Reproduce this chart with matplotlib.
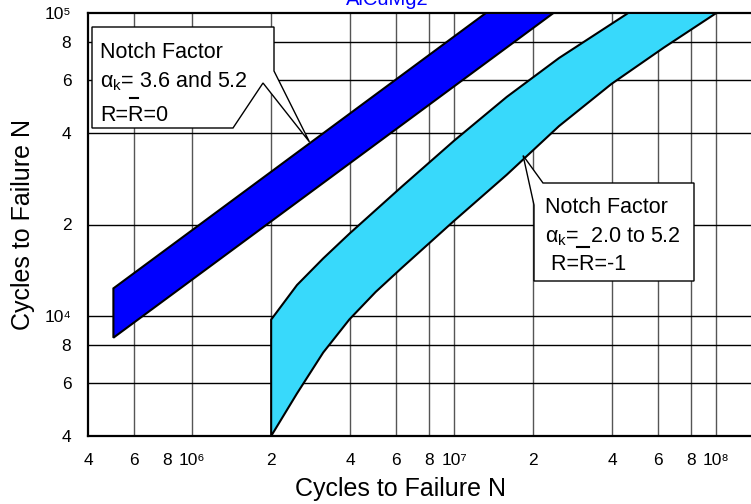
import numpy as np
import matplotlib
matplotlib.use('Agg')
import matplotlib.pyplot as plt
from matplotlib.patches import Polygon

plt.rcParams['font.family'] = ['Liberation Sans', 'DejaVu Sans']
plt.rcParams['mathtext.fontset'] = 'custom'
plt.rcParams['mathtext.rm'] = 'Liberation Sans'
plt.rcParams['mathtext.it'] = 'Liberation Sans:italic'
plt.rcParams['mathtext.default'] = 'regular'

# scatter band R=0 (notch factor 3.6 and 5.2)
r0_upper_x = [5.0e5, 1.32e7]
r0_upper_y = [1.23e4, 1.0e5]
r0_lower_x = [5.0e5, 2.39e7]
r0_lower_y = [8.45e3, 1.0e5]

# scatter band R=-1 (notch factor 2.0 to 5.2)
rm1_upper_x = [2.0e6, 2.51e6, 3.16e6, 3.98e6, 6.31e6, 1.0e7, 1.585e7, 2.51e7, 4.61e7]
rm1_upper_y = [9.7e3, 1.262e4, 1.545e4, 1.866e4, 2.67e4, 3.79e4, 5.28e4, 7.1e4, 1.0e5]
rm1_lower_x = [2.0e6, 2.51e6, 3.16e6, 3.98e6, 5.01e6, 6.31e6, 1.0e7, 1.585e7, 2.51e7,
               3.98e7, 6.31e7, 1.0e8]
rm1_lower_y = [4.0e3, 5.53e3, 7.55e3, 9.72e3, 1.197e4, 1.439e4, 2.06e4, 2.92e4, 4.23e4,
               5.83e4, 7.69e4, 1.0e5]

xticks = [4e5, 6e5, 8e5, 1e6, 2e6, 4e6, 6e6, 8e6, 1e7, 2e7, 4e7, 6e7, 8e7, 1e8]
xlabels = ['4', '6', '8', '10\u2076', '2', '4', '6', '8', '10\u2077', '2', '4', '6', '8', '10\u2078']
xgrid = [6e5, 1e6, 2e6, 4e6, 6e6, 8e6, 1e7, 2e7, 4e7, 6e7, 8e7, 1e8]
yticks = [4e3, 6e3, 8e3, 1e4, 2e4, 4e4, 6e4, 8e4, 1e5]
ylabels = ['4', '6', '8', '10\u2074', '2', '4', '6', '8', '10\u2075']

tip_r0 = (2.8e6, 3.75e4)
tip_rm1 = (1.83e7, 3.38e4)

W, H = 751, 504
fig = plt.figure(figsize=(W / 100, H / 100), dpi=100)
# axes: left 88px, top 13px, bottom 436px; right side runs off the picture
ax = fig.add_axes([88 / W, (H - 436) / H, 674.5 / W, 423 / H])
ax.set_xscale('log')
ax.set_yscale('log')
ax.set_xlim(4e5, 1.5e8)
ax.set_ylim(4e3, 1e5)

for gx in xgrid:
    ax.axvline(gx, color='#555555', lw=1.0, zorder=1)
for gy in yticks[1:-1]:
    ax.axhline(gy, color='black', lw=1.0, zorder=1)

ax.set_xticks(xticks)
ax.set_xticklabels(xlabels)
ax.set_yticks(yticks)
ax.set_yticklabels(ylabels)
ax.minorticks_off()
ax.tick_params(axis='both', length=0, labelsize=12.5)
ax.tick_params(axis='x', pad=12)
ax.tick_params(axis='y', pad=12)

for s in ['left', 'bottom', 'top']:
    ax.spines[s].set_linewidth(1.6)
ax.spines['right'].set_visible(False)

# bands
ax.fill(r0_upper_x + r0_lower_x[::-1], r0_upper_y + r0_lower_y[::-1],
        facecolor='#0000ff', edgecolor='black', lw=1.5, zorder=3)
ax.fill(rm1_upper_x + rm1_lower_x[::-1], rm1_upper_y + rm1_lower_y[::-1],
        facecolor='#38d9fb', edgecolor='black', lw=1.5, zorder=3)


def px(x, y):
    return ((x - 88) / 674.5, (436 - y) / 423)


def data2ax(pt):
    return tuple(ax.transAxes.inverted().transform(ax.transData.transform(pt)))


# callout 1
t1 = data2ax(tip_r0)
box1 = [px(92, 27), px(274, 27), px(274, 71), t1, px(263, 83), px(233, 128), px(92, 128)]
ax.add_patch(Polygon(box1, closed=True, transform=ax.transAxes, facecolor='white',
                     edgecolor='black', lw=1.0, zorder=5, clip_on=False))
fs = 15.5
x0, y0 = px(100, 58)
ax.text(x0, y0, 'Notch Factor', transform=ax.transAxes, fontsize=fs, va='baseline', zorder=6)
x0, y0 = px(100, 87)
ax.text(x0, y0, r'$\alpha_{k}$= 3.6 and 5.2', transform=ax.transAxes, fontsize=fs, va='baseline', zorder=6)
x0, y0 = px(100, 121)
ax.text(x0, y0, 'R=R=0', transform=ax.transAxes, fontsize=fs, va='baseline', zorder=6)
a, b = px(130, 98), px(138, 98)
ax.plot([a[0], b[0]], [a[1], b[1]], transform=ax.transAxes, color='black', lw=1.5, zorder=6)

# callout 2
t2 = data2ax(tip_rm1)
box2 = [t2, px(543, 183), px(694, 183), px(694, 281), px(534, 281), px(534, 205)]
ax.add_patch(Polygon(box2, closed=True, transform=ax.transAxes, facecolor='white',
                     edgecolor='black', lw=1.0, zorder=5, clip_on=False))
x0, y0 = px(545, 213)
ax.text(x0, y0, 'Notch Factor', transform=ax.transAxes, fontsize=fs, va='baseline', zorder=6)
x0, y0 = px(545, 242)
ax.text(x0, y0, r'$\alpha_{k}$=  2.0 to 5.2', transform=ax.transAxes, fontsize=fs, va='baseline', zorder=6)
x0, y0 = px(545, 270)
ax.text(x0, y0, ' R=R=-1', transform=ax.transAxes, fontsize=fs, va='baseline', zorder=6)
a, b = px(577, 247), px(589, 247)
ax.plot([a[0], b[0]], [a[1], b[1]], transform=ax.transAxes, color='black', lw=1.5, zorder=6)

fig.text(400 / W, 1 - 489 / H, 'Cycles to Failure N', ha='center', va='center', fontsize=18)
fig.text(23 / W, 1 - 225 / H, 'Cycles to Failure N', ha='center', va='center', fontsize=18, rotation=90)
# title sits mostly above the picture in the reference
fig.text(387 / W, 1 - 5 / H, 'AlCuMg2', ha='center', va='baseline', color='blue', fontsize=14.5)

fig.savefig('out.png', dpi=100)
